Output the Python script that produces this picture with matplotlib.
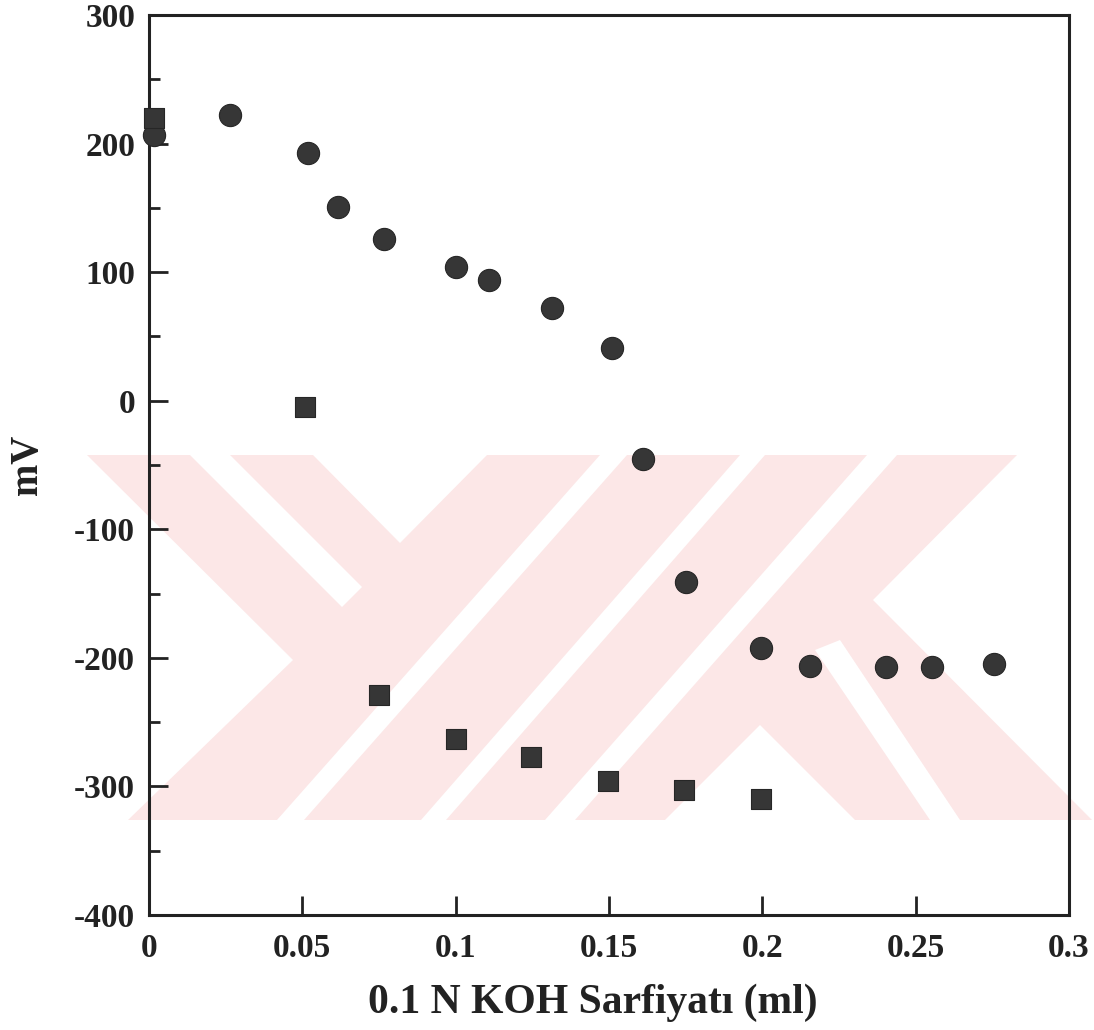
import matplotlib
matplotlib.use('Agg')
import matplotlib.pyplot as plt
from matplotlib.patches import Polygon

# ---- data ----
circle_x = [0.0015, 0.0265, 0.052, 0.0615, 0.0765, 0.100, 0.111, 0.1315, 0.151,
            0.161, 0.175, 0.1997, 0.2155, 0.2402, 0.2552, 0.2755]
circle_y = [207, 222, 193, 151, 126, 104, 94, 72, 41,
            -45, -141, -192, -206, -207, -207, -205]
square_x = [0.0015, 0.051, 0.075, 0.100, 0.1245, 0.1497, 0.1745, 0.1997]
square_y = [220, -5, -229, -263, -277, -296, -303, -310]

xticks = [0, 0.05, 0.1, 0.15, 0.2, 0.25, 0.3]
xtick_labels = ['0', '0.05', '0.1', '0.15', '0.2', '0.25', '0.3']
yticks = [-400, -300, -200, -100, 0, 100, 200, 300]
ytick_labels = ['-400', '-300', '-200', '-100', '0', '100', '200', '300']
x_label = '0.1 N KOH Sarfiyatı (ml)'
y_label = 'mV'

W, H = 1094, 1030
fig = plt.figure(figsize=(W / 100, H / 100), dpi=100)
fig.patch.set_facecolor('white')

def fp(pts):
    return [(x / W, 1 - y / H) for x, y in pts]

# ---- background watermark (light red logo) ----
pink = '#fce7e7'
main_shape = [(87, 455), (313, 455), (400, 543), (487, 455), (1017, 455),
              (873, 600), (1092, 820), (128, 820), (293, 660)]
white_gaps = [
    [(190, 455), (230, 455), (362, 587), (342, 607)],
    [(600, 455), (627, 455), (304, 820), (277, 820)],
    [(740, 455), (765, 455), (446, 820), (421, 820)],
    [(867, 455), (897, 455), (575, 820), (545, 820)],
    [(665, 820), (760, 725), (855, 820)],
    [(815, 650), (840, 640), (960, 820), (930, 820)],
]
fig.add_artist(Polygon(fp(main_shape), closed=True, transform=fig.transFigure,
                       facecolor=pink, edgecolor='none', zorder=-2))
for g in white_gaps:
    fig.add_artist(Polygon(fp(g), closed=True, transform=fig.transFigure,
                           facecolor='white', edgecolor='none', zorder=-1))

# ---- axes ----
left, right, top, bottom = 149, 1069, 15, 915
ax = fig.add_axes([left / W, 1 - bottom / H, (right - left) / W, (bottom - top) / H])
ax.set_facecolor('none')
ax.set_zorder(1)

ax.scatter(circle_x, circle_y, s=16 ** 2, marker='o', color='#363636',
           edgecolors='#262626', linewidths=0.8, zorder=3, clip_on=False)
ax.scatter(square_x, square_y, s=14 ** 2, marker='s', color='#363636',
           edgecolors='#262626', linewidths=0.8, zorder=3, clip_on=False)

ax.set_xlim(0, 0.3)
ax.set_ylim(-400, 300)

font = dict(family='Liberation Serif', weight='bold')
ax.set_xticks(xticks)
ax.set_xticklabels(xtick_labels, fontsize=24, **font)
ax.set_yticks(yticks)
ax.set_yticklabels(ytick_labels, fontsize=24, **font)
ax.set_yticks([-350, -250, -150, -50, 50, 150, 250], minor=True)

ax.tick_params(axis='both', which='major', direction='in', length=14, width=2,
               color='#222222', labelcolor='#222222')
ax.tick_params(axis='x', which='major', pad=13)
ax.tick_params(axis='y', which='major', pad=10)
ax.tick_params(axis='y', which='minor', direction='in', length=8, width=2, color='#222222')
ax.tick_params(top=False, right=False, which='both')

for s in ax.spines.values():
    s.set_linewidth(2.2)
    s.set_color('#222222')

ax.set_xlabel(x_label, fontsize=30, color='#222222', **font)
ax.xaxis.set_label_coords(0.482, -0.076)
ax.set_ylabel(y_label, fontsize=28, labelpad=20, color='#222222', **font)

fig.savefig('out.png', dpi=100, facecolor='white')
